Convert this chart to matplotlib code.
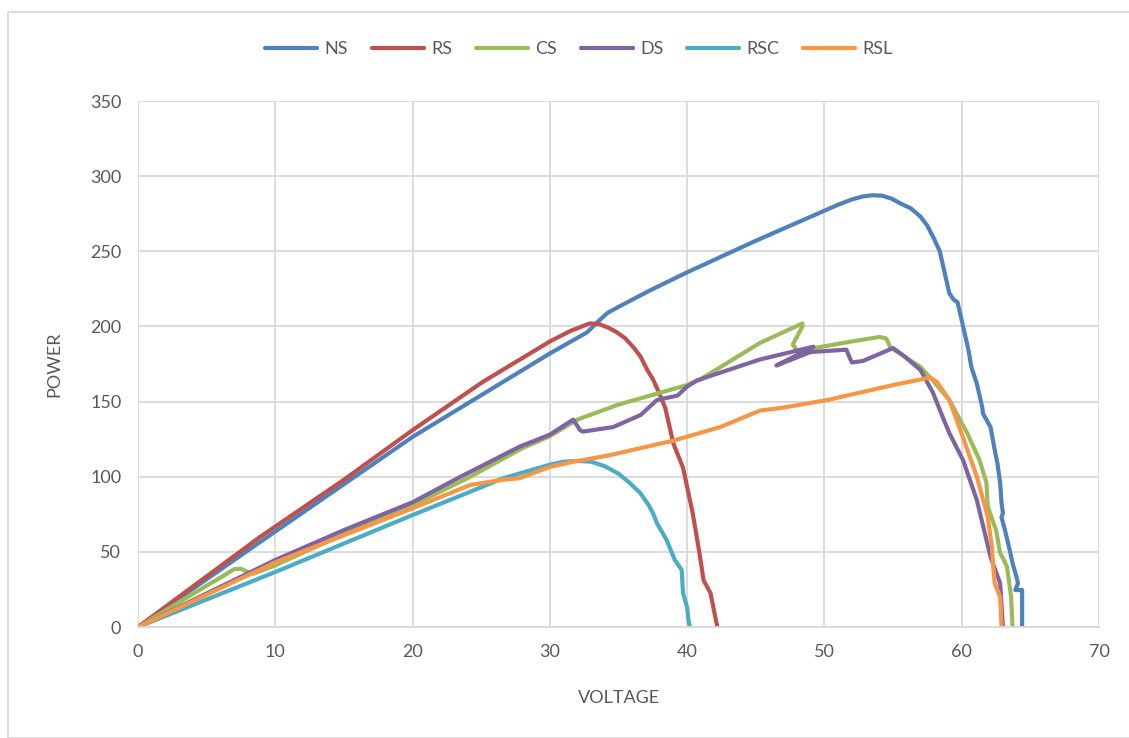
import matplotlib
matplotlib.use("Agg")
import matplotlib.pyplot as plt
from matplotlib.patches import Rectangle

# P-V curves, voltage (V) vs power (W)
ns_v = [0, 8.9, 20, 30, 32.7, 33.6, 34.2, 35, 37.3, 40, 45, 50, 51, 52, 52.8, 53.5, 54.2, 54.9,
        55.5, 56.3, 57.0, 57.5, 58.0, 58.4, 59.1, 59.4, 59.7, 60.5, 60.7, 61.1, 61.5, 61.55,
        62.1, 62.4, 62.6, 62.8, 62.9, 63.0, 62.9, 63.15, 63.5, 63.7, 64.0, 64.1, 63.9, 64.4, 64.4]
ns_p = [0, 56.6, 126.5, 182, 196, 204, 209, 213, 224, 236, 257, 277, 281, 284.5, 286.5, 287.3, 287, 285,
        282, 278.5, 273, 267, 258, 250, 222, 218, 216, 184, 173, 162, 146, 142,
        133, 118, 109, 96, 82.5, 76, 73, 64.5, 51, 42.6, 33, 29, 24.6, 24.6, 0]

rs_v = [0, 8.9, 15, 20, 25.1, 30, 31.5, 32.9, 33.6, 34.3, 34.9, 35.5, 36.1, 36.6, 37.1, 37.5,
        37.9, 38.4, 39.0, 39.7, 40.4, 40.9, 41.2, 41.7, 42.0, 42.2]
rs_p = [0, 60, 98, 131, 163, 190, 197, 202, 201.5, 199, 196, 192, 186, 180, 171, 165,
        157, 146, 122, 106, 76, 49, 31, 22.6, 9, 0]

cs_v = [0, 5, 6.3, 7.0, 7.5, 8.0, 8.4, 10, 15, 20, 24, 28, 30, 32, 35, 40, 41, 45.3, 48.4,
        48.4, 47.7, 48.0, 49.5, 52, 54, 54.5, 54.8, 55.5, 57.0, 57.9, 59.1, 60.4, 61.3, 61.8,
        61.9, 62.5, 62.8, 63.0, 63.3, 63.6, 63.7]
cs_p = [0, 27.5, 34.5, 38.5, 38.8, 36.5, 35.5, 41, 62, 81, 99, 119, 127, 138, 148, 161, 165, 189, 202,
        200, 188, 184, 186, 190, 193, 192, 186, 182, 173, 164, 151, 129, 111, 96,
        80, 64.5, 49, 46, 40, 20, 0]

ds_v = [0, 10, 15, 20, 23.5, 27.8, 30, 31.7, 32.2, 32.4, 34.6, 36.6, 37.8, 39.3, 40.0, 40.7,
        42, 45.3, 49.2, 46.5, 49.0, 51.6, 51.8, 52.0, 52.8, 55.0, 55.7, 57.0, 57.9, 58.6,
        59.1, 60.1, 61.1, 62.1, 62.8, 63.0]
ds_p = [0, 44.6, 64.5, 83, 100, 120, 128, 138, 131, 130, 133, 141, 151, 154, 160, 164,
        168, 178, 186.5, 174, 183, 184.5, 180, 176, 177, 185.6, 181, 171, 156, 140,
        129, 111, 84.5, 46.6, 29, 0]

rsc_v = [0, 10, 20, 24.2, 26.6, 30, 31, 32, 33, 34, 35, 35.8, 36.6, 37.2, 37.5, 37.8, 38.5, 39.1,
         39.6, 39.7, 40.0, 40.1, 40.2]
rsc_p = [0, 36.6, 74.5, 90, 99, 108, 110, 110.5, 110, 107, 102, 96, 89, 81, 76, 69, 58, 44.6,
         38, 22.6, 13, 4.6, 0]

rsl_v = [0, 10, 20, 24.2, 26.6, 27.8, 30, 31.7, 34.2, 36.6, 39, 42.4, 45.3, 47, 50.2, 55,
         57.7, 58.2, 59.1, 60.1, 61.1, 61.7, 61.9, 62.2, 62.3, 62.4, 62.8, 62.9]
rsl_p = [0, 43, 79, 94.5, 98, 99, 106.5, 110, 114, 119, 124, 133, 144, 146, 151, 161,
         166, 163, 151, 126, 100, 80, 73, 53, 40, 29, 20, 0]

series = [
    ("NS", ns_v, ns_p, "#4F81BD"),
    ("RS", rs_v, rs_p, "#C0504D"),
    ("CS", cs_v, cs_p, "#9BBB59"),
    ("DS", ds_v, ds_p, "#8064A2"),
    ("RSC", rsc_v, rsc_p, "#4BACC6"),
    ("RSL", rsl_v, rsl_p, "#F79646"),
]

plt.rcParams["font.family"] = ["Lato", "DejaVu Sans"]
txt = "#595959"
grid = "#D9D9D9"

fig = plt.figure(figsize=(11.29, 7.38), dpi=100)
ax = fig.add_axes([138 / 1129, 111 / 738, 961 / 1129, 526 / 738])

for name, v, p, c in series:
    ax.plot(v, p, color=c, lw=3, label=name, solid_joinstyle="round", solid_capstyle="round")

ax.set_xlim(0, 70)
ax.set_ylim(0, 350)
ax.set_xticks(range(0, 71, 10))
ax.set_yticks(range(0, 351, 50))
ax.grid(True, color=grid, lw=1.3)
ax.set_axisbelow(True)
for s in ax.spines.values():
    s.set_visible(False)
ax.spines["bottom"].set_visible(True)
ax.spines["bottom"].set_color(grid)
ax.spines["bottom"].set_linewidth(1.3)
ax.tick_params(length=0, colors=txt, labelsize=13, pad=12)

ax.set_xlabel("VOLTAGE", color=txt, fontsize=13, labelpad=22)
ax.set_ylabel("POWER", color=txt, fontsize=13, labelpad=20)

ax.legend(loc="center", bbox_to_anchor=(579 / 1129, 1 - 49 / 738), bbox_transform=fig.transFigure,
          ncol=6, frameon=False, fontsize=13, handlelength=2.9, columnspacing=1.3,
          handletextpad=0.4, labelcolor=txt)

fig.patches.append(Rectangle((8 / 1129, 0), 1, 1 - 12 / 738, transform=fig.transFigure,
                             fill=False, edgecolor=grid, lw=1.3))

fig.savefig("out.png", dpi=100)
